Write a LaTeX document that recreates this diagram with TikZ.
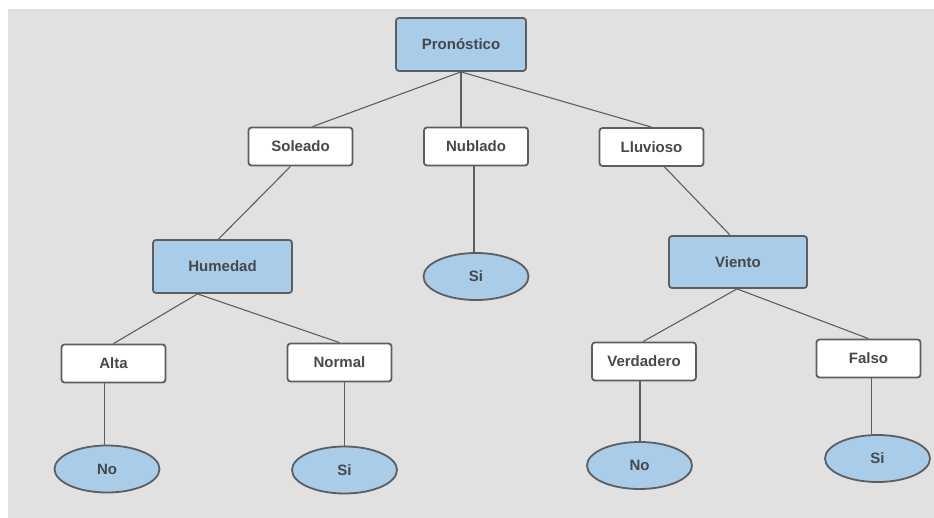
\documentclass[tikz,border=0pt]{standalone}
\usepackage{fontspec}
\setmainfont{Liberation Sans}
\usetikzlibrary{shapes.geometric}
\definecolor{bg}{HTML}{E1E1E1}
\definecolor{nodeblue}{HTML}{A9CCE9}
\definecolor{edge}{HTML}{5E5E5E}
\definecolor{txt}{HTML}{45484D}
\begin{document}
\begin{tikzpicture}[x=1pt,y=-1pt,
  base/.style={draw=edge,line width=1.8pt,text=txt,font=\fontsize{15}{18}\selectfont\bfseries,inner sep=0pt},
  decbox/.style={base,rectangle,rounded corners=3pt,fill=nodeblue,minimum width=138pt,minimum height=52pt},
  valbox/.style={base,rectangle,rounded corners=3pt,fill=white,minimum width=104pt,minimum height=38pt},
  leaf/.style={base,ellipse,fill=nodeblue,minimum width=105pt,minimum height=47pt},
  conn/.style={draw=edge,line width=1.1pt}]
\useasboundingbox (0,0) rectangle (934,518);
\fill[white] (0,0) rectangle (934,518);
\fill[bg] (8,9) rectangle (934,518);
% nodes
\node[decbox,minimum width=130pt,minimum height=53pt] (pron) at (461,44.5) {Pronóstico};
\node[valbox] (sol) at (300.5,146.5) {Soleado};
\node[valbox] (nub) at (476,146.5) {Nublado};
\node[valbox] (llu) at (651.5,147) {Lluvioso};
\node[decbox,minimum width=139pt,minimum height=53pt] (hum) at (222.5,266.5) {Humedad};
\node[decbox] (vie) at (738,262) {Viento};
\node[leaf] (si1) at (476,276.5) {Si};
\node[valbox] (alta) at (113.5,363.5) {Alta};
\node[valbox] (norm) at (339.5,362.5) {Normal};
\node[valbox] (verd) at (644,361.5) {Verdadero};
\node[valbox] (fals) at (868.5,358.5) {Falso};
\node[leaf] (no1) at (107,469) {No};
\node[leaf] (si2) at (344.5,470) {Si};
\node[leaf] (no2) at (639.5,465.5) {No};
\node[leaf] (si3) at (877.5,458.5) {Si};
% connector start points
\coordinate (altaB) at ([xshift=-9pt]alta.south);
\coordinate (normB) at ([xshift=5pt]norm.south);
\coordinate (verdB) at ([xshift=-4pt]verd.south);
\coordinate (falsB) at ([xshift=3pt]fals.south);
\coordinate (nubB) at ([xshift=-2pt]nub.south);
% connectors
\draw[conn] (pron.south) -- ([xshift=12pt]sol.north);
\draw[conn] (pron.south) -- (pron.south |- nub.north);
\draw[conn] (pron.south) -- (llu.north);
\draw[conn] ([xshift=-10pt]sol.south) -- ([xshift=-4pt]hum.north);
\draw[conn] (nubB) -- (nubB |- si1.north);
\draw[conn] ([xshift=13pt]llu.south) -- ([xshift=-8pt]vie.north);
\draw[conn] ([xshift=-25pt]hum.south) -- (alta.north);
\draw[conn] ([xshift=-25pt]hum.south) -- (norm.north);
\draw[conn] ([xshift=-1pt]vie.south) -- ([xshift=-1pt]verd.north);
\draw[conn] ([xshift=-1pt]vie.south) -- (fals.north);
\draw[conn] (altaB) -- (altaB |- no1.north);
\draw[conn] (normB) -- (normB |- si2.north);
\draw[conn] (verdB) -- (verdB |- no2.north);
\draw[conn] (falsB) -- (falsB |- si3.north);
\end{tikzpicture}
\end{document}
